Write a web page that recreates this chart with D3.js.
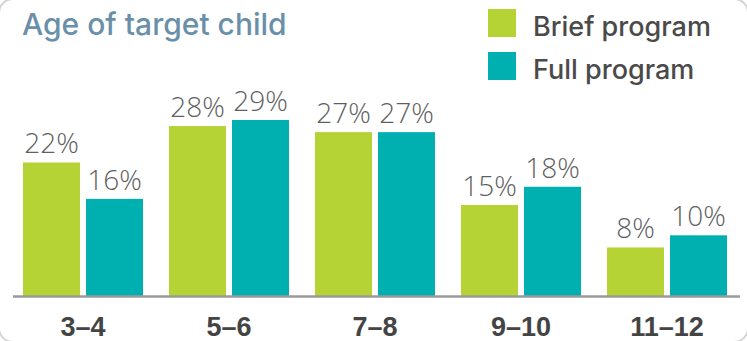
<!DOCTYPE html>
<html lang="en">
<head>
<meta charset="UTF-8">
<title>Age of target child</title>
<script src="https://d3js.org/d3.v7.min.js"></script>
<style>
    * { margin: 0; padding: 0; box-sizing: border-box; }
    body { background: #fff; width: 747px; height: 341px; overflow: hidden; }
    svg { display: block; font-family: Inter, "Liberation Sans", Arial, sans-serif; }
    .title { fill: #6a8fa9; font-size: 30px; font-weight: 500; }
    .legend-label { fill: #4a4a4a; font-size: 27px; font-weight: 500; }
    .value-label { fill: #5f5f5f; font-size: 28px; font-family: "Open Sans", Roboto, sans-serif; font-weight: 300; text-anchor: middle; }
    .axis text { fill: #444; font-size: 27px; font-weight: 600; }
    .axis path { stroke: #9a9a9a; stroke-width: 2.5; }
</style>
</head>
<body>
<div id="chart"></div>
<script>
    const categories = ["3–4", "5–6", "7–8", "9–10", "11–12"];
    const seriesNames = ["Brief program", "Full program"];
    const brief = [22, 28, 27, 15, 8];
    const full = [16, 29, 27, 18, 10];
    const colors = ["#b5d334", "#00b0b0"];

    const width = 747, height = 341;
    const baseY = 296;

    const svg = d3.select("#chart").append("svg")
        .attr("width", width)
        .attr("height", height);

    // card outline, only the corners show
    svg.append("rect")
        .attr("x", -1).attr("y", -1)
        .attr("width", width + 2).attr("height", height + 2)
        .attr("rx", 14)
        .attr("fill", "none")
        .attr("stroke", "#d4d4d4")
        .attr("stroke-width", 2);

    const x = d3.scaleBand()
        .domain(categories)
        .range([10, 740])
        .paddingInner(0.178)
        .paddingOuter(0.089);

    const xSub = d3.scaleBand()
        .domain(seriesNames)
        .range([0, x.bandwidth()])
        .paddingInner(0.0952);

    const y = d3.scaleLinear()
        .domain([0, 29])
        .range([baseY, 120]);

    const rows = categories.map((c, i) => ({
        cat: c,
        values: [
            { key: seriesNames[0], v: brief[i], color: colors[0] },
            { key: seriesNames[1], v: full[i], color: colors[1] }
        ]
    }));

    const groups = svg.selectAll(".group")
        .data(rows)
        .enter().append("g")
        .attr("class", "group")
        .attr("transform", d => `translate(${x(d.cat)},0)`);

    groups.selectAll("rect")
        .data(d => d.values)
        .enter().append("rect")
        .attr("x", d => xSub(d.key))
        .attr("y", d => y(d.v))
        .attr("width", xSub.bandwidth())
        .attr("height", d => baseY - y(d.v))
        .attr("fill", d => d.color);

    groups.selectAll(".value-label")
        .data(d => d.values)
        .enter().append("text")
        .attr("class", "value-label")
        .attr("x", d => xSub(d.key) + xSub.bandwidth() / 2)
        .attr("y", d => y(d.v) - 9)
        .text(d => d.v + "%");

    // x axis
    const axis = svg.append("g")
        .attr("class", "axis")
        .attr("transform", `translate(0,${baseY})`)
        .call(d3.axisBottom(x).tickSize(0));
    axis.select(".domain").attr("d", `M13,0.5H740`);
    axis.selectAll("text").attr("dy", null).attr("y", 40);

    // title
    svg.append("text")
        .attr("class", "title")
        .attr("x", 22)
        .attr("y", 35)
        .text("Age of target child");

    // legend
    const legend = svg.selectAll(".legend")
        .data(seriesNames)
        .enter().append("g")
        .attr("class", "legend")
        .attr("transform", (d, i) => `translate(488,${9 + i * 43})`);

    legend.append("rect")
        .attr("width", 28)
        .attr("height", 28)
        .attr("fill", (d, i) => colors[i]);

    legend.append("text")
        .attr("class", "legend-label")
        .attr("x", 45)
        .attr("y", 27)
        .text(d => d);
</script>
</body>
</html>
